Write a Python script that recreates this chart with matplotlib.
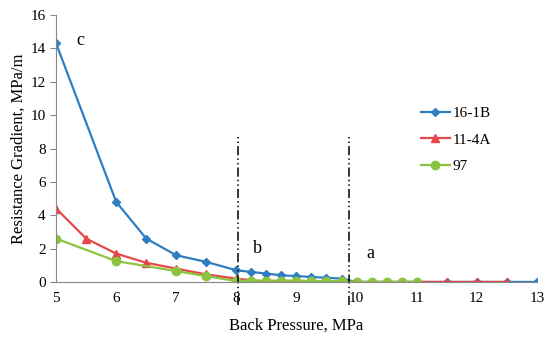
import matplotlib
matplotlib.use("Agg")
import matplotlib.pyplot as plt

plt.rcParams['font.family'] = ['Liberation Serif', 'DejaVu Serif']

# Data
x_16_1b = [5, 6, 6.5, 7, 7.5, 8, 8.25, 8.5, 8.75, 9, 9.25, 9.5, 9.75, 10,
           10.25, 10.5, 10.75, 11, 11.5, 12, 12.5, 13]
y_16_1b = [14.3, 4.8, 2.6, 1.6, 1.2, 0.7, 0.6, 0.5, 0.4, 0.35, 0.3, 0.25, 0.2, 0.0,
           0.0, 0.0, 0.0, 0.0, 0.0, 0.0, 0.0, 0.0]

x_11_4a = [5, 5.5, 6, 6.5, 7, 7.5, 8, 8.25, 8.5, 8.75, 9, 9.25, 9.5, 9.75, 10,
           10.25, 10.5, 10.75, 11, 11.5, 12, 12.5]
y_11_4a = [4.4, 2.6, 1.7, 1.15, 0.8, 0.45, 0.2, 0.1, 0.02, 0.02, 0.02, 0.02, 0.02, 0.02, 0.0,
           0.0, 0.0, 0.0, 0.0, 0.0, 0.0, 0.0]

x_97 = [5, 6, 7, 7.5, 8, 8.25, 8.5, 8.75, 9, 9.25, 9.5, 9.75, 10,
        10.25, 10.5, 10.75, 11]
y_97 = [2.6, 1.25, 0.65, 0.35, 0.05, 0.08, 0.08, 0.08, 0.08, 0.06, 0.05, 0.04, 0.0,
        0.0, 0.0, 0.0, 0.0]

boundaries = [8.03, 9.88]
zone_labels = ['c', 'b', 'a']
zone_pos = [(5.33, 14.5), (8.28, 2.0), (10.17, 1.7)]

fig = plt.figure(figsize=(5.5, 3.43), dpi=100)
ax = fig.add_axes([0.102, 0.178, 0.874, 0.778])

ax.plot(x_16_1b, y_16_1b, color='#2F7EC2', lw=1.6, marker='D', ms=4.5, label='16-1B')
ax.plot(x_11_4a, y_11_4a, color='#E5484A', lw=1.6, marker='^', ms=6, label='11-4A')
ax.plot(x_97, y_97, color='#8CC43F', lw=1.6, marker='o', ms=6, label='97')

for bx in boundaries:
    ax.plot([bx, bx], [-1.4, 8.8], color='black', lw=1.1,
            dashes=[6, 2, 1, 2, 1, 2], clip_on=False)

for t, (tx, ty) in zip(zone_labels, zone_pos):
    ax.text(tx, ty, t, fontsize=13, ha='left', va='center')

ax.set_xlim(5, 13)
ax.set_ylim(0, 16)
ax.set_xticks(range(5, 14))
ax.set_yticks(range(0, 17, 2))
ax.tick_params(axis='x', length=0, labelsize=11, pad=7)
ax.tick_params(axis='y', length=4, direction='out', labelsize=11, color='#888888')
for s in ['top', 'right']:
    ax.spines[s].set_visible(False)
for s in ['left', 'bottom']:
    ax.spines[s].set_color('#888888')

ax.set_xlabel('Back Pressure, MPa', fontsize=12, labelpad=9)
ax.set_ylabel('Resistance Gradient, MPa/m', fontsize=12, labelpad=3)

ax.legend(loc='upper left', bbox_to_anchor=(0.73, 0.71), frameon=False,
          fontsize=11, handlelength=1.9, labelspacing=0.85, handletextpad=0.2)

fig.savefig('out.png', dpi=100)
